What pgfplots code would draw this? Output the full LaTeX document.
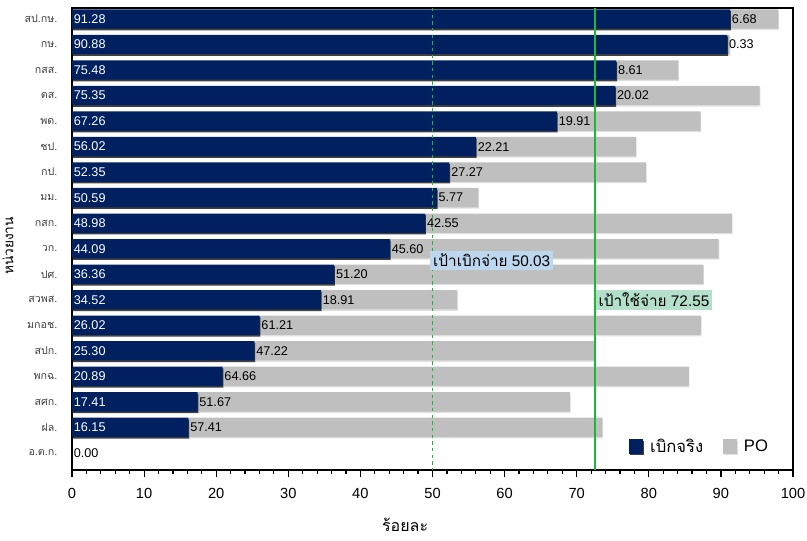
\documentclass[border=0pt]{standalone}
\usepackage{fontspec}
\setmainfont{Liberation Sans}
\newfontfamily\thai[Script=Thai]{Loma}
\usepackage{pgfplots}
\pgfplotsset{compat=1.18}
\usetikzlibrary{shadows}

\definecolor{navy}{HTML}{002060}
\definecolor{pogray}{HTML}{BFBFBF}
\definecolor{tgtgreen}{HTML}{1DB83A}
\definecolor{boxblue}{HTML}{BDD7EE}
\definecolor{boxgreen}{HTML}{B4DFCA}

\pgfplotsset{
  base/.style={width=540.75pt, height=346.5pt, scale only axis,
    xmin=0, xmax=100, ymin=-0.43, ymax=17.67, y dir=reverse},
  vallabel/.style={draw=none, mark=none, nodes near coords,
    point meta=explicit symbolic,
    nodes near coords style={anchor=west, inner sep=1.2pt,
      font=\fontsize{9.5}{11}\selectfont}},
}

\begin{document}
\begin{tikzpicture}
\useasboundingbox (-54pt,-52.5pt) rectangle (551.25pt,352.5pt);
\begin{axis}[base,
  xbar stacked, bar width=14.5pt,
  axis line style={black, line width=0.9pt},
  xtick={0,10,...,100}, minor x tick num=4, xtick pos=bottom,
  tick align=outside, major tick length=5pt, minor tick length=2.8pt,
  tick style={black, line width=0.9pt},
  /pgf/number format/assume math mode=true,
  xticklabel style={font=\fontsize{11}{13}\selectfont, yshift=-5.5pt},
  ytick={0,...,17},
  yticklabels={สป.กษ., กษ., กสส., ตส., พด., ชป., กป., มม., กสก., วก., ปศ., สวพส., มกอช., สปก., พกฉ., สศก., ฝล., อ.ต.ก.},
  ytick style={draw=none},
  yticklabel style={font=\thai\fontsize{8}{9}\selectfont, text=black!75, xshift=-2.5pt},
  xlabel={\thai ร้อยละ},
  xlabel style={at={(axis description cs:0.462,-0.119)}, anchor=center,
    font=\fontsize{12}{14}\selectfont},
  ylabel={\thai หน่วยงาน},
  ylabel style={at={(axis description cs:-0.0888,0.485)}, anchor=center,
    font=\fontsize{10.3}{12}\selectfont},
  legend style={draw=none, fill=none, at={(axis description cs:0.975,0.022)},
    anchor=south east, legend columns=-1,
    font=\fontsize{12.5}{14}\selectfont,
    /tikz/every odd column/.append style={column sep=3pt},
    /tikz/every even column/.append style={column sep=13pt}},
]
\addplot[fill=navy, draw=none,
  drop shadow={shadow xshift=0.6pt, shadow yshift=-1.2pt, fill=black, opacity=0.75},
  legend image code/.code={\fill[navy] (0pt,-5.5pt) rectangle (10.5pt,5.5pt);}]
  coordinates {
  (91.28,0) (90.88,1) (75.48,2) (75.35,3) (67.26,4) (56.02,5)
  (52.35,6) (50.59,7) (48.98,8) (44.09,9) (36.36,10) (34.52,11)
  (26.02,12) (25.30,13) (20.89,14) (17.41,15) (16.15,16) (0,17)};
\addplot[fill=pogray, draw=none,
  drop shadow={shadow xshift=0.5pt, shadow yshift=-1pt, fill=black, opacity=0.12},
  legend image code/.code={\fill[pogray] (0pt,-5.5pt) rectangle (10.5pt,5.5pt);}]
  coordinates {
  (6.68,0) (0.33,1) (8.61,2) (20.02,3) (19.91,4) (22.21,5)
  (27.27,6) (5.77,7) (42.55,8) (45.60,9) (51.20,10) (18.91,11)
  (61.21,12) (47.22,13) (64.66,14) (51.67,15) (57.41,16) (0,17)};
\legend{{\thai เบิกจริง}, PO}
\end{axis}

\begin{axis}[base, hide axis, clip=false]
% actual values, inside the navy bars
\addplot[vallabel, nodes near coords style={text=white}] coordinates {
  (0,0)[91.28] (0,1)[90.88] (0,2)[75.48] (0,3)[75.35] (0,4)[67.26] (0,5)[56.02]
  (0,6)[52.35] (0,7)[50.59] (0,8)[48.98] (0,9)[44.09] (0,10)[36.36] (0,11)[34.52]
  (0,12)[26.02] (0,13)[25.30] (0,14)[20.89] (0,15)[17.41] (0,16)[16.15]};
\addplot[vallabel, nodes near coords style={text=black}] coordinates {(0,17)[0.00]};
% PO values, at the start of the grey part
\addplot[vallabel, nodes near coords style={text=black}] coordinates {
  (91.28,0)[6.68] (90.88,1)[0.33] (75.48,2)[8.61] (75.35,3)[20.02] (67.26,4)[19.91]
  (56.02,5)[22.21] (52.35,6)[27.27] (50.59,7)[5.77] (48.98,8)[42.55] (44.09,9)[45.60]
  (36.36,10)[51.20] (34.52,11)[18.91] (26.02,12)[61.21] (25.30,13)[47.22]
  (20.89,14)[64.66] (17.41,15)[51.67] (16.15,16)[57.41]};
% target lines
\addplot[draw=tgtgreen, line width=0.8pt, dash pattern=on 2.5pt off 2.5pt] coordinates {(50.03,-0.43) (50.03,17.67)};
\addplot[draw=tgtgreen, line width=0.9pt, solid] coordinates {(72.55,-0.43) (72.55,17.67)};
\node[fill=boxblue, anchor=west, inner sep=2.2pt, font=\fontsize{11.5}{13}\selectfont]
  at (axis cs:49.65,9.45) {{\thai เป้าเบิกจ่าย} 50.03};
\node[fill=boxgreen, anchor=west, inner sep=2.2pt, font=\fontsize{11.5}{13}\selectfont]
  at (axis cs:72.6,11.0) {{\thai เป้าใช้จ่าย} 72.55};
\end{axis}
\end{tikzpicture}
\end{document}
